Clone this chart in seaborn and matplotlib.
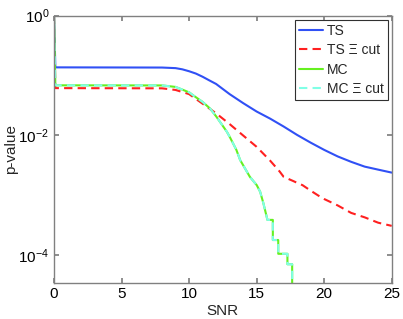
import numpy as np
import pandas as pd
import seaborn as sns
import matplotlib.pyplot as plt

# p-value vs SNR
ts_snr = [0, 0.1, 8, 9, 9.5, 10, 10.5, 11, 11.5, 12, 13, 14, 15, 16, 17, 18, 19, 20, 21, 22, 23, 24, 25]
ts_p = [1.0, 0.137, 0.136, 0.133, 0.127, 0.118, 0.108, 0.0955, 0.083, 0.0724, 0.0490, 0.0347, 0.0251,
        0.0191, 0.0141, 0.0102, 0.00759, 0.00575, 0.00447, 0.00363, 0.00302, 0.00269, 0.00240]

tscut_snr = [0, 0.1, 8, 9, 10, 11, 12, 13, 14, 15, 16, 16.7, 17, 17.7, 18, 18.4, 19, 19.7,
             20, 21, 22, 23, 24, 25]
tscut_p = [1.0, 0.0617, 0.0612, 0.0575, 0.0490, 0.0339, 0.0234, 0.0155, 0.0100, 0.00646,
           0.00380, 0.00251, 0.00204, 0.00174, 0.00162, 0.00148, 0.00120, 0.00095,
           0.00087, 0.00068, 0.00051, 0.00043, 0.00035, 0.00031]

mc_snr = [0, 0.1, 8, 9, 10, 10.3, 11, 11.55, 12, 12.8, 13, 13.5, 13.78, 14.5, 15.01, 15.26,
          15.5, 15.8, 16.2, 16.2, 16.6, 16.6, 17.28, 17.28, 17.63, 17.63]
mc_p = [1.0, 0.0687, 0.0684, 0.0646, 0.0525, 0.0468, 0.0363, 0.0282, 0.0209, 0.0115,
        0.00955, 0.00575, 0.00389, 0.00204, 0.00148, 0.00115, 0.00074, 0.00039,
        0.00039, 0.00018, 0.00018, 0.000106, 0.000106, 0.000071, 0.000071, 0.0]

sns.set_theme(style="ticks", rc={
    "axes.edgecolor": "#808080",
    "axes.linewidth": 1.0,
    "xtick.direction": "in",
    "ytick.direction": "in",
    "xtick.top": True,
    "ytick.right": True,
    "xtick.color": "#808080",
    "ytick.color": "#808080",
    "xtick.labelcolor": "black",
    "ytick.labelcolor": "black",
    "xtick.major.size": 3.5,
    "ytick.major.size": 3.5,
    "xtick.labelsize": 11,
    "ytick.labelsize": 11,
    "axes.labelsize": 11,
    "mathtext.fontset": "custom",
    "mathtext.rm": "Liberation Sans",
    "mathtext.it": "Liberation Sans:italic",
})
plt.rcParams['font.family'] = ['Liberation Sans', 'DejaVu Sans']

fig = plt.figure(figsize=(4.03, 3.19), dpi=100)
ax = fig.add_axes([0.134, 0.114, 0.838, 0.837])

sns.lineplot(x=ts_snr, y=ts_p, ax=ax, color="#3050F5", lw=1.5,
             estimator=None, sort=False, label="TS")
sns.lineplot(x=tscut_snr, y=tscut_p, ax=ax, color="#FF2020", lw=1.5,
             linestyle=(0, (4, 2.5)), estimator=None, sort=False, label="TS \u039e cut")
sns.lineplot(x=mc_snr, y=mc_p, ax=ax, color="#66F020", lw=1.5,
             estimator=None, sort=False, label="MC")
sns.lineplot(x=mc_snr, y=mc_p, ax=ax, color="#80FFE6", lw=1.5,
             linestyle=(0, (4, 2.5)), estimator=None, sort=False, label="MC \u039e cut")

ax.set_yscale("log")
ax.set_xlim(0, 25)
ax.set_ylim(3.5e-5, 1)
ax.set_xticks([0, 5, 10, 15, 20, 25])
ax.set_yticks([1e-4, 1e-2, 1e0])
ax.yaxis.set_minor_locator(plt.NullLocator())
ax.set_xlabel("SNR", labelpad=2)
ax.set_ylabel("p-value", labelpad=0)

leg = ax.legend(loc="upper right", fontsize=10, frameon=True, fancybox=False,
                edgecolor="#303030", framealpha=1, borderaxespad=0.3,
                handlelength=1.7, handletextpad=0.25, labelspacing=0.38,
                borderpad=0.3)
leg.get_frame().set_linewidth(0.8)

fig.savefig("out.png", dpi=100)
